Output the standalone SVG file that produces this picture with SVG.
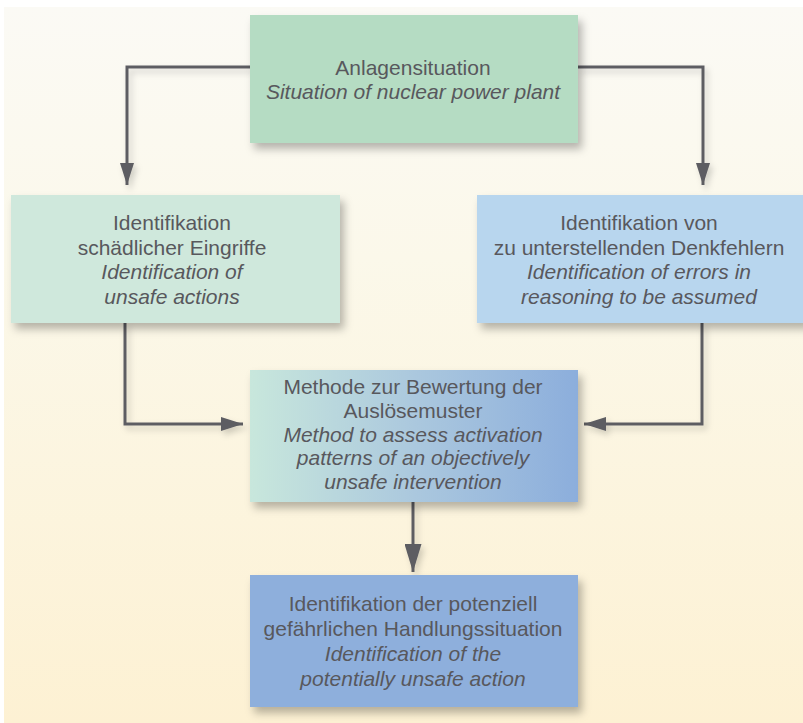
<svg xmlns="http://www.w3.org/2000/svg" width="803" height="723" viewBox="0 0 803 723">
  <defs>
    <linearGradient id="bg" x1="0" y1="0" x2="0" y2="1">
      <stop offset="0" stop-color="#fbfaf5"/>
      <stop offset="0.35" stop-color="#fbf8ea"/>
      <stop offset="1" stop-color="#fdf1d3"/>
    </linearGradient>
    <linearGradient id="midGrad" x1="0" y1="0" x2="1" y2="0">
      <stop offset="0" stop-color="#c8e7dc"/>
      <stop offset="0.5" stop-color="#abc8de"/>
      <stop offset="1" stop-color="#8caedc"/>
    </linearGradient>
    <filter id="shadow" x="-20%" y="-20%" width="150%" height="160%">
      <feDropShadow dx="4" dy="6" stdDeviation="4" flood-color="#000" flood-opacity="0.28"/>
    </filter>
    <filter id="lshadow" x="-50%" y="-50%" width="200%" height="200%">
      <feDropShadow dx="3" dy="4" stdDeviation="3" flood-color="#000" flood-opacity="0.18"/>
    </filter>
    <marker id="arr" viewBox="0 0 22 14" refX="22" refY="7" markerWidth="22" markerHeight="14" markerUnits="userSpaceOnUse" orient="auto">
      <path d="M0,0 L22,7 L0,14 Z" fill="#5d5d62"/>
    </marker>
    <marker id="arrBig" viewBox="0 0 28 17" refX="28" refY="8.5" markerWidth="28" markerHeight="17" markerUnits="userSpaceOnUse" orient="auto">
      <path d="M0,0 L28,8.5 L0,17 Z" fill="#5d5d62"/>
    </marker>
  </defs>
  <style>
    .box { filter: url(#shadow); }
    .t { font-family: "Liberation Sans", Arial, sans-serif; font-size: 21px; fill: #58585d; text-anchor: middle; }
    .i { font-style: italic; }
    .conn { fill: none; stroke: #5d5d62; stroke-width: 3; }
  </style>

  <rect x="0" y="0" width="803" height="723" fill="#ffffff"/>
  <rect x="4" y="7" width="799" height="716" fill="url(#bg)"/>

  <g id="connectors" filter="url(#lshadow)">
    <polyline class="conn" points="250,67 127,67 127,185" marker-end="url(#arr)"/>
    <polyline class="conn" points="578,67 703,67 703,185" marker-end="url(#arr)"/>
    <polyline class="conn" points="125,323 125,424 243,424" marker-end="url(#arr)"/>
    <polyline class="conn" points="702,323 702,424 584,424" marker-end="url(#arr)"/>
    <line class="conn" x1="413" y1="501" x2="413" y2="572" marker-end="url(#arrBig)"/>
  </g>

  <g id="node-anlagensituation">
    <rect class="box" x="250" y="15" width="328" height="128" fill="#b5dcc3"/>
    <text class="t" x="413" y="75">Anlagensituation</text>
    <text class="t i" x="413" y="99">Situation of nuclear power plant</text>
  </g>

  <g id="node-unsafe-actions">
    <rect class="box" x="11" y="195" width="329" height="128" fill="#cfe8dc"/>
    <text class="t" x="172" y="230">Identifikation</text>
    <text class="t" x="172" y="255">schädlicher Eingriffe</text>
    <text class="t i" x="172" y="279">Identification of</text>
    <text class="t i" x="172" y="304">unsafe actions</text>
  </g>

  <g id="node-reasoning-errors">
    <rect class="box" x="477" y="195" width="330" height="128" fill="#b8d6ee"/>
    <text class="t" x="639" y="230">Identifikation von</text>
    <text class="t" x="639" y="255">zu unterstellenden Denkfehlern</text>
    <text class="t i" x="639" y="279">Identification of errors in</text>
    <text class="t i" x="639" y="304">reasoning to be assumed</text>
  </g>

  <g id="node-method">
    <rect class="box" x="250" y="370" width="328" height="132" fill="url(#midGrad)"/>
    <text class="t" x="413" y="394">Methode zur Bewertung der</text>
    <text class="t" x="413" y="418">Auslösemuster</text>
    <text class="t i" x="413" y="442">Method to assess activation</text>
    <text class="t i" x="413" y="465">patterns of an objectively</text>
    <text class="t i" x="413" y="489">unsafe intervention</text>
  </g>

  <g id="node-potentially-unsafe">
    <rect class="box" x="250" y="575" width="328" height="132" fill="#8eafdc"/>
    <text class="t" x="413" y="611">Identifikation der potenziell</text>
    <text class="t" x="413" y="636">gefährlichen Handlungssituation</text>
    <text class="t i" x="413" y="661">Identification of the</text>
    <text class="t i" x="413" y="686">potentially unsafe action</text>
  </g>
</svg>
